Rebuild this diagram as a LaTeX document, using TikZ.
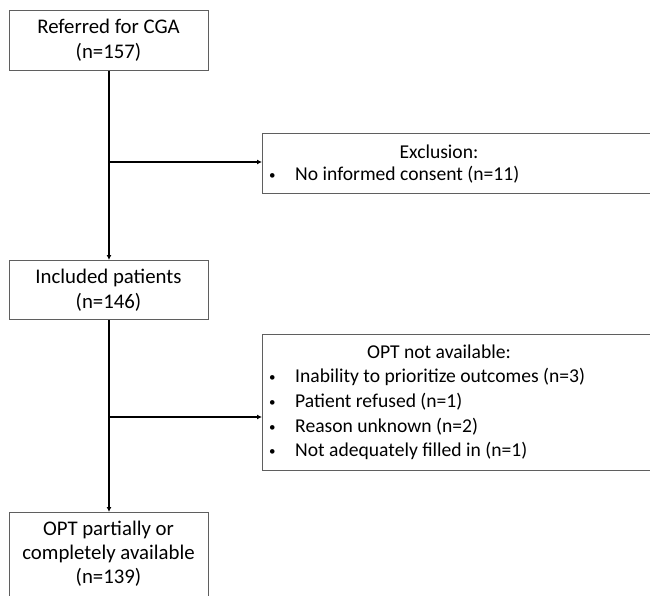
\documentclass[tikz,border=0pt]{standalone}
\usepackage{fontspec}
\setmainfont{Carlito}
\usetikzlibrary{arrows.meta,calc}
\definecolor{boxgray}{RGB}{95,95,95}
\tikzset{
  box/.style={draw=boxgray, line width=1pt, inner sep=0pt, anchor=north west},
  txt/.style={inner sep=0pt, font=\fontsize{20.8}{25}\selectfont, align=center},
  rtxt/.style={inner sep=0pt, font=\fontsize{19.6}{24.5}\selectfont, align=center},
  lst/.style={inner sep=0pt, font=\fontsize{19.6}{24.5}\selectfont, align=left, anchor=west},
  conn/.style={line width=1.4pt, black, -{Latex[length=5pt,width=5pt]}},
  line/.style={line width=1.4pt, black}
}
\newcommand{\bul}{\makebox[26pt][l]{\raisebox{1.5pt}{\fontsize{13}{13}\selectfont •}}}
\begin{document}
\begin{tikzpicture}[x=1pt,y=-1pt]
\useasboundingbox (0,0) rectangle (650,596);
% left boxes
\node[box, minimum width=199pt, minimum height=60pt] (b1) at (9,10) {};
\node[txt] (t1) at (108.5,40.5) {Referred for CGA\\(n=157)};
\node[box, minimum width=199pt, minimum height=59pt] (b2) at (9,260) {};
\node[txt] (t2) at (108.5,290) {Included patients\\(n=146)};
\node[box, minimum width=199pt, minimum height=95pt] (b3) at (9,512) {};
\node[txt, font=\fontsize{20.8}{24}\selectfont] (t3) at (108.5,553.5) {OPT partially or\\completely available\\(n=139)};
% right boxes
\node[box, minimum width=392pt, minimum height=60pt] (ex) at (262,133) {};
\node[rtxt] (ext) at (439,152) {Exclusion:};
\node[lst] (exl) at (269,175) {\bul No informed consent (n=11)};
\node[box, minimum width=392pt, minimum height=136pt] (opt) at (262,334) {};
\node[rtxt] (optt) at (439,352) {OPT not available:};
\node[lst] (o1) at (269,377) {\bul Inability to prioritize outcomes (n=3)};
\node[lst] (o2) at (269,402) {\bul Patient refused (n=1)};
\node[lst] (o3) at (269,427) {\bul Reason unknown (n=2)};
\node[lst] (o4) at (269,451) {\bul Not adequately filled in (n=1)};
% connectors
\coordinate (s1) at (b1.south);
\coordinate (j1) at (s1 |- 0,162);
\coordinate (j2) at (b2.south |- 0,417);
\draw[conn] (b1.south) -- (b2.north);
\draw[conn] (j1) -- (j1 -| ex.west);
\draw[conn] (b2.south) -- (b3.north);
\draw[conn] (j2) -- (j2 -| opt.west);
\end{tikzpicture}
\end{document}
